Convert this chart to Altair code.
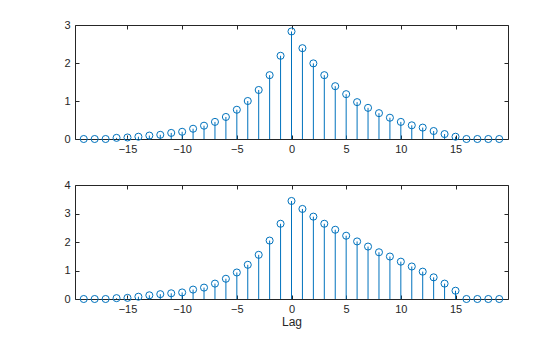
import altair as alt
import pandas as pd

lags = list(range(-19, 20))
top_vals = ([0, 0, 0]
            + [0.03, 0.04, 0.06, 0.09, 0.11, 0.16, 0.19, 0.27, 0.35, 0.45, 0.58, 0.77, 1.0, 1.29, 1.68, 2.19]
            + [2.83]
            + [2.39, 1.99, 1.68, 1.39, 1.18, 0.97, 0.82, 0.68, 0.56, 0.45, 0.36, 0.30, 0.21, 0.13, 0.06]
            + [0, 0, 0, 0])
bottom_vals = ([0, 0, 0]
               + [0.03, 0.04, 0.08, 0.13, 0.17, 0.2, 0.23, 0.33, 0.4, 0.54, 0.71, 0.93, 1.2, 1.55, 2.05, 2.64]
               + [3.44]
               + [3.16, 2.89, 2.64, 2.43, 2.22, 2.02, 1.84, 1.64, 1.49, 1.31, 1.14, 0.96, 0.76, 0.54, 0.29]
               + [0, 0, 0, 0])
x_ticks = [-15, -10, -5, 0, 5, 10, 15]
top_yticks = [0, 1, 2, 3]
bottom_yticks = [0, 1, 2, 3, 4]

BLUE = "#0072BD"
AX = "#262626"
FONT = "Liberation Sans"


def axis(orient, values, labels=True, title=None, pad=8):
    kw = dict(orient=orient, values=values, labels=labels, grid=False,
              domainColor=AX, tickColor=AX, labelColor=AX, domainWidth=1, tickWidth=1,
              tickSize=alt.ExprRef(expr="-4"), labelPadding=pad, labelFont=FONT, labelFontSize=11,
              titleFont=FONT, titleFontSize=12, titleFontWeight="normal", titleColor=AX,
              titlePadding=2)
    kw["title"] = title
    if title is None:
        kw["title"] = None
    return alt.Axis(**kw)


def panel(vals, ymax, yticks, xtitle):
    df = pd.DataFrame({"lag": lags, "v": vals})
    xs = alt.Scale(domain=[-19.8, 19.8], nice=False, zero=False)
    ys = alt.Scale(domain=[0, ymax], nice=False)
    base = alt.Chart(df)
    stems = base.mark_rule(color=BLUE, strokeWidth=1).encode(
        x=alt.X("lag:Q", scale=xs, axis=axis("bottom", x_ticks, True, xtitle, 8)),
        y=alt.Y("v:Q", scale=ys, axis=axis("left", yticks, True, None, 9)),
        y2=alt.datum(0),
    )
    dots = base.mark_point(shape="circle", filled=False, color=BLUE, size=50,
                           strokeWidth=1, opacity=1).encode(
        x=alt.X("lag:Q", scale=xs, axis=None),
        y=alt.Y("v:Q", scale=ys, axis=None),
    )
    ghost = base.mark_point(opacity=0).encode(
        x=alt.X("lag:Q", scale=xs, axis=axis("top", x_ticks, False)),
        y=alt.Y("v:Q", scale=ys, axis=axis("right", yticks, False)),
    )
    return alt.layer(stems, dots, ghost).resolve_axis(
        x="independent", y="independent").properties(width=433, height=114)


top = panel(top_vals, 3, top_yticks, None)
bottom = panel(bottom_vals, 4, bottom_yticks, "Lag")

chart = alt.vconcat(top, bottom, spacing=25).properties(
    padding={"left": 63, "top": 19, "right": 5, "bottom": 5},
    background="white",
).configure_view(stroke=None)

chart.save("out.html", embed_options={"renderer": "svg", "actions": False})
